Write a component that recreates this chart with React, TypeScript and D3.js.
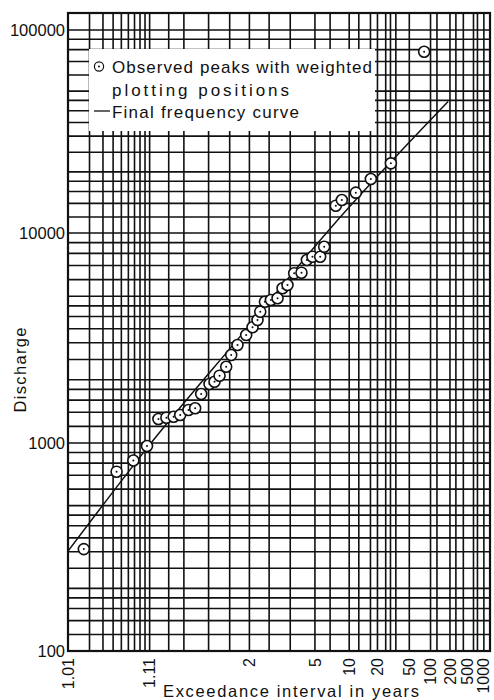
import React from "react";
import * as d3 from "d3";

const width = 494;
const height = 700;

// observed peaks: exceedance interval (years) and discharge
const obsT = [
  1.017, 1.046, 1.073, 1.104, 1.138, 1.167, 1.198, 1.23, 1.277, 1.321, 1.366,
  1.437, 1.486, 1.54, 1.62, 1.688, 1.783, 1.936, 2.066, 2.181, 2.249, 2.375,
  2.556, 2.786, 2.982, 3.201, 3.539, 3.971, 4.344, 4.785, 5.504, 5.935, 7.49,
  8.5, 11.65, 16.83, 28.9, 80.6,
];
const obsQ = [
  309, 728, 824, 967, 1301, 1320, 1334, 1359, 1436, 1463, 1711, 1910, 1958,
  2092, 2308, 2624, 2929, 3268, 3556, 3852, 4220, 4708, 4797, 4887, 5455, 5655,
  6428, 6471, 7437, 7711, 7711, 8605, 13630, 14540, 15800, 18450, 22040, 78170,
];

// final frequency curve
const curveT = [1.01, 1.104, 1.98, 6.33, 187];
const curveQ = [302, 945, 3582, 10150, 44400];

// probability paper grid (non-exceedance probability)
const gridP = [
  0.02, 0.03, 0.04, 0.05, 0.06, 0.07, 0.08, 0.09, 0.1, 0.15, 0.2, 0.3, 0.4,
  0.5, 0.6, 0.7, 0.8, 0.85, 0.9, 0.92, 0.94, 0.95, 0.96, 0.965, 0.97, 0.98,
  0.99, 0.992, 0.995, 0.996, 0.997, 0.998, 0.9983, 0.9987,
];
const gridDecades = [100, 1000, 10000];
const gridMult = [1, 1.2, 1.4, 1.6, 1.8, 2, 2.5, 3, 3.5, 4, 4.5, 5, 6, 7, 8, 9];

const xTicks = [1.01, 1.11, 2, 5, 10, 20, 50, 100, 200, 500, 1000];
const xTickLabels = ["1.01", "1.11", "2", "5", "10", "20", "50", "100", "200", "500", "1000"];
const yTicks = [100, 1000, 10000, 100000];
const yTickLabels = ["100", "1000", "10000", "100000"];

// inverse standard normal cdf (Acklam)
function qnorm(p: number): number {
  const a = [-39.69683028665376, 220.9460984245205, -275.9285104469687, 138.357751867269, -30.66479806614716, 2.506628277459239];
  const b = [-54.47609879822406, 161.5858368580409, -155.6989798598866, 66.80131188771972, -13.28068155288572];
  const c = [-0.007784894002430293, -0.3223964580411365, -2.400758277161838, -2.549732539343734, 4.374664141464968, 2.938163982698783];
  const d = [0.007784695709041462, 0.3224671290700398, 2.445134137142996, 3.754408661907416];
  const pl = 0.02425;
  if (p < pl) {
    const q = Math.sqrt(-2 * Math.log(p));
    return (((((c[0] * q + c[1]) * q + c[2]) * q + c[3]) * q + c[4]) * q + c[5]) /
      ((((d[0] * q + d[1]) * q + d[2]) * q + d[3]) * q + 1);
  }
  if (p > 1 - pl) {
    const q = Math.sqrt(-2 * Math.log(1 - p));
    return -(((((c[0] * q + c[1]) * q + c[2]) * q + c[3]) * q + c[4]) * q + c[5]) /
      ((((d[0] * q + d[1]) * q + d[2]) * q + d[3]) * q + 1);
  }
  const q = p - 0.5;
  const r = q * q;
  return ((((((a[0] * r + a[1]) * r + a[2]) * r + a[3]) * r + a[4]) * r + a[5]) * q) /
    (((((b[0] * r + b[1]) * r + b[2]) * r + b[3]) * r + b[4]) * r + 1);
}

const left = 68;
const right = 490;
const top = 13;
const bottom = 651;

const zScale = d3
  .scaleLinear()
  .domain([qnorm(1 - 1 / 1.01), qnorm(0.999)])
  .range([left, right]);
const xP = (p: number) => zScale(qnorm(p));
const xT = (t: number) => xP(1 - 1 / t);

// piecewise log scale (the scanned paper is slightly uneven per decade)
const yScale = d3
  .scaleLog()
  .domain([100, 1000, 10000, 100000, 121000])
  .range([bottom, 443, 233, 30, top]);

const font = "'Liberation Sans', Arial, Helvetica, sans-serif";

export default function App() {
  const hLines: number[] = [];
  gridDecades.forEach((dec) => gridMult.forEach((m) => hLines.push(dec * m)));
  hLines.push(100000);

  const line = d3
    .line<number>()
    .x((i) => xT(curveT[i]))
    .y((i) => yScale(curveQ[i]))
    .curve(d3.curveMonotoneX);

  // keep crowded labels on the right apart
  const labelX = xTicks.map((t) => xT(t));
  labelX[labelX.length - 1] = Math.min(labelX[labelX.length - 1], width - 11);
  for (let i = labelX.length - 2; i >= 0; i--) {
    labelX[i] = Math.min(labelX[i], labelX[i + 1] - 16);
  }

  return (
    <svg
      width={width}
      height={height}
      style={{ position: "absolute", left: 0, top: 0, background: "#fff" }}
      fontFamily={font}
    >
      <rect x={0} y={0} width={width} height={height} fill="#fff" />
      <g stroke="#111" strokeWidth={1.6} fill="none">
        {gridP.map((p) => (
          <line key={"v" + p} x1={xP(p)} x2={xP(p)} y1={top} y2={bottom} />
        ))}
        {hLines.map((v) => (
          <line key={"h" + v} x1={left} x2={right} y1={yScale(v)} y2={yScale(v)} />
        ))}
        <rect x={left} y={top} width={right - left} height={bottom - top} strokeWidth={2.2} />
      </g>

      {/* legend */}
      <rect x={89} y={49} width={286} height={82} fill="#fff" />
      <circle cx={99} cy={66.5} r={4.6} fill="none" stroke="#111" strokeWidth={1.2} />
      <circle cx={99} cy={66.5} r={1} fill="#111" />
      <line x1={94} x2={110} y1={111} y2={111} stroke="#111" strokeWidth={1.3} />
      <g fontSize={17} fill="#111">
        <text x={112} y={73} textLength={260} lengthAdjust="spacing">
          Observed peaks with weighted
        </text>
        <text x={112} y={95.5} textLength={177} lengthAdjust="spacing">
          plotting positions
        </text>
        <text x={112} y={118} textLength={187} lengthAdjust="spacing">
          Final frequency curve
        </text>
      </g>

      {/* frequency curve */}
      <path d={line(d3.range(curveT.length)) || ""} fill="none" stroke="#111" strokeWidth={1.5} />

      {/* observed peaks */}
      {obsT.map((t, i) => (
        <g key={"o" + i} transform={`translate(${xT(t)},${yScale(obsQ[i])})`}>
          <circle r={5.5} fill="#fff" stroke="#111" strokeWidth={1.6} />
          <circle r={1} fill="#111" />
        </g>
      ))}

      {/* y axis */}
      <g fontSize={16.5} fill="#111" textAnchor="end">
        {yTicks.map((v, i) => (
          <text key={"yt" + v} x={left - 3} y={yScale(v)} dy="0.36em">
            {yTickLabels[i]}
          </text>
        ))}
      </g>
      <text
        transform={`translate(25.5,370) rotate(-90)`}
        fontSize={16.5}
        fill="#111"
        textAnchor="middle"
        textLength={85}
        lengthAdjust="spacing"
      >
        Discharge
      </text>

      {/* x axis */}
      <g fontSize={16} fill="#111" textAnchor="end">
        {xTicks.map((t, i) => (
          <text
            key={"xt" + t}
            transform={`translate(${labelX[i]},658) rotate(-90)`}
            dy="0.36em"
          >
            {xTickLabels[i]}
          </text>
        ))}
      </g>
      <text
        x={163}
        y={697}
        fontSize={16.5}
        fill="#111"
        textLength={256}
        lengthAdjust="spacing"
      >
        Exceedance interval in years
      </text>
    </svg>
  );
}
